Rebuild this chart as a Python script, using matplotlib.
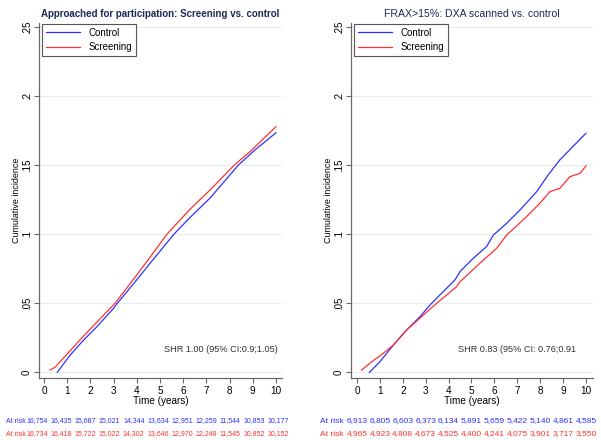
import matplotlib
matplotlib.use("Agg")
import matplotlib.pyplot as plt
import matplotlib.transforms as mtransforms
from matplotlib import font_manager

# Prefer a condensed sans face, fall back to the regular one
_names = {f.name for f in font_manager.fontManager.ttflist}
FAMILY = ["Liberation Sans Narrow"] if "Liberation Sans Narrow" in _names else ["Liberation Sans"]
plt.rcParams["font.family"] = FAMILY + ["DejaVu Sans"]

# ---------------- data ----------------
titles = ["Approached for participation: Screening vs. control",
          "FRAX>15%: DXA scanned vs. control"]
series_names = ["Control", "Screening"]

# Panel 1: approached for participation
p1_control_t = [0.57, 1.11, 1.69, 2.27, 2.99, 3.16, 3.99, 4.57, 5.60, 6.29, 7.16, 8.38, 9.09, 10.0]
p1_control_y = [0.0, 0.0122, 0.0231, 0.0329, 0.0462, 0.0500, 0.0668, 0.0789, 0.1000, 0.1120, 0.1262, 0.1500, 0.1609, 0.1734]
p1_screen_t = [0.26, 0.47, 0.83, 1.55, 2.27, 3.06, 4.00, 4.57, 5.30, 6.29, 7.16, 8.20, 8.88, 10.0]
p1_screen_y = [0.0017, 0.0037, 0.0102, 0.0235, 0.0362, 0.0500, 0.0705, 0.0833, 0.1000, 0.1180, 0.1320, 0.1500, 0.1597, 0.1778]

# Panel 2: FRAX > 15%, DXA scanned
p2_control_t = [0.54, 1.00, 1.59, 2.17, 2.75, 3.19, 3.62, 4.28, 4.50, 5.08, 5.66, 5.96, 6.54, 7.12, 7.85, 8.35, 8.86, 9.29, 10.0]
p2_control_y = [0.0, 0.0077, 0.0198, 0.0307, 0.0403, 0.0488, 0.0560, 0.0669, 0.0729, 0.0826, 0.0910, 0.0994, 0.1079, 0.1175, 0.1308, 0.1428, 0.1537, 0.1610, 0.1730]
p2_screen_t = [0.20, 0.64, 1.15, 1.59, 2.17, 2.90, 3.48, 4.35, 4.50, 5.37, 6.10, 6.54, 7.41, 7.99, 8.43, 8.86, 9.30, 9.74, 10.0]
p2_screen_y = [0.0017, 0.0077, 0.0138, 0.0198, 0.0307, 0.0415, 0.0500, 0.0620, 0.0656, 0.0790, 0.0898, 0.0994, 0.1127, 0.1224, 0.1308, 0.1332, 0.1416, 0.1440, 0.1494]

shr_text = ["SHR 1.00 (95% CI:0.9;1.05)", "SHR 0.83 (95% CI: 0.76;0.91"]

p1_risk_control = ["16,754", "16,435", "15,687", "15,021", "14,344", "13,634", "12,951", "12,259", "11,544", "10,853", "10,177"]
p1_risk_screen = ["16,734", "16,418", "15,722", "15,022", "14,302", "13,646", "12,970", "12,248", "11,545", "10,852", "10,152"]
p2_risk_control = ["6,913", "6,805", "6,603", "6,373", "6,134", "5,891", "5,659", "5,422", "5,140", "4,861", "4,585"]
p2_risk_screen = ["4,965", "4,923", "4,808", "4,673", "4,525", "4,400", "4,241", "4,075", "3,901", "3,717", "3,550"]

x_ticks = list(range(0, 11))
y_ticks = [0, 0.05, 0.10, 0.15, 0.20, 0.25]
y_ticklabels = ["0", ".05", ".1", ".15", ".2", ".25"]

# ---------------- style ----------------
W, H = 601, 440
BLUE = "#3030ff"
RED = "#ff3030"
TITLE_C = "#1c2a55"
AXIS_C = "#6a6a6a"
GRID_C = "#e6eff0"

fig = plt.figure(figsize=(W / 100, H / 100), dpi=100)
fig.patch.set_facecolor("white")


def px(x, y):
    return x / W, 1 - y / H


def setup(ax, xlim):
    ax.set_xlim(*xlim)
    ax.set_ylim(-0.00405, 0.2528)
    for s in ("top", "right"):
        ax.spines[s].set_visible(False)
    for s in ("left", "bottom"):
        ax.spines[s].set_color(AXIS_C)
        ax.spines[s].set_linewidth(0.9)
    ax.set_xticks(x_ticks)
    ax.set_xticklabels([str(v) for v in x_ticks], fontsize=7.2)
    ax.set_yticks(y_ticks)
    ax.set_yticklabels(y_ticklabels, fontsize=7.0, rotation=90, va="center")
    ax.tick_params(axis="both", colors=AXIS_C, labelcolor="black", length=3.5, width=0.8, pad=2)
    ax.tick_params(axis="y", pad=1.5)
    ax.grid(axis="y", color=GRID_C, linewidth=0.8)
    ax.set_axisbelow(True)
    ax.set_ylabel("Cumulative incidence", fontsize=6.4, labelpad=1)
    ax.set_xlabel("Time (years)", fontsize=7.2, labelpad=0)


axes_specs = [
    dict(rect=[39 / W, 62 / H, 243 / W, 355 / H], xlim=(-0.216, 10.26)),
    dict(rect=[351 / W, 62 / H, 242 / W, 355 / H], xlim=(-0.262, 10.31)),
]
panel_data = [
    (p1_control_t, p1_control_y, p1_screen_t, p1_screen_y),
    (p2_control_t, p2_control_y, p2_screen_t, p2_screen_y),
]
title_cx = [160, 472]
title_size = [7.0, 7.6]
title_weight = ["bold", "normal"]
shr_x = [164, 458]

axes = []
for i, spec in enumerate(axes_specs):
    ax = fig.add_axes(spec["rect"])
    setup(ax, spec["xlim"])
    ct, cy, st, sy = panel_data[i]
    ax.plot(ct, cy, color=BLUE, lw=0.9, label=series_names[0])
    ax.plot(st, sy, color=RED, lw=0.9, label=series_names[1])
    leg = ax.legend(loc="upper left", bbox_to_anchor=(0.011, 0.998), fontsize=7,
                    handlelength=3.5, handletextpad=0.95, borderpad=0.4,
                    labelspacing=0.45, fancybox=False, framealpha=1, borderaxespad=0)
    leg.get_frame().set_edgecolor("#555555")
    leg.get_frame().set_linewidth(0.8)
    fig.text(*px(title_cx[i], 14), titles[i], ha="center", va="center",
             fontsize=title_size[i], color=TITLE_C, fontweight=title_weight[i])
    ax.text((shr_x[i] - spec["rect"][0] * W) / (spec["rect"][2] * W), (378 - 349) / 355,
            shr_text[i], transform=ax.transAxes, ha="left", va="center", fontsize=6.6, color="#333333")
    axes.append(ax)

# Numbers at risk beneath each panel
rows = [
    (axes[0], p1_risk_control, p1_risk_screen, [-0.28 + 1.037 * k for k in range(11)], 26.0, 5.0),
    (axes[1], p2_risk_control, p2_risk_screen, x_ticks, 344, 6.0),
]
for ax, rc, rs, xs, lab_x, fs in rows:
    tr = mtransforms.blended_transform_factory(ax.transData, fig.transFigure)
    for vals, color, yy in ((rc, BLUE, 421), (rs, RED, 434)):
        fig.text(lab_x / W, 1 - yy / H, "At risk", ha="right", va="center", fontsize=fs, color=color)
        for x, v in zip(xs, vals):
            ax.text(x, 1 - yy / H, v, transform=tr, ha="center", va="center",
                    fontsize=fs, color=color, clip_on=False)

fig.savefig("out.png", dpi=100, facecolor="white")
